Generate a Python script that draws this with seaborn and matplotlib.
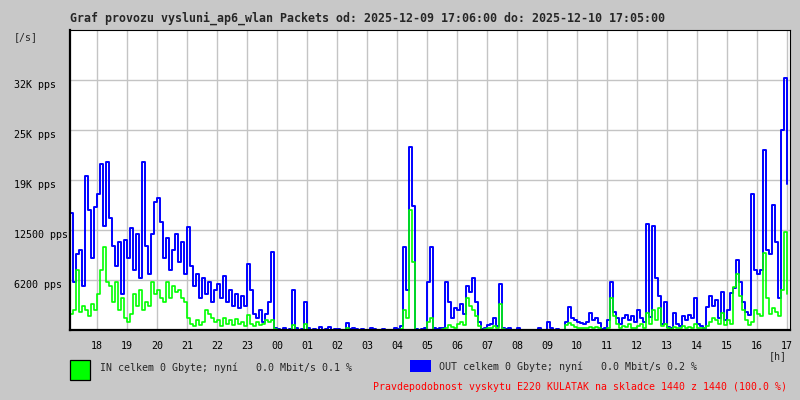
import numpy as np
import pandas as pd
import matplotlib
matplotlib.use("Agg")
import matplotlib.pyplot as plt
import matplotlib.dates as mdates
from matplotlib.patches import Rectangle
import seaborn as sns

# ── data (K pps, one sample per 6 min, from 17:06) ────────────────────────
START = "2025-12-09 17:06"
END = "2025-12-10 17:06"

out_k = [
    14.6, 6.0, 9.5, 10.0, 5.5, 19.2, 15.0, 9.0, 15.4,             # 17
    17.0, 20.8, 13.0, 21.0, 14.0, 10.5, 8.0, 11.0, 4.5, 11.2,     # 18
    9.0, 12.8, 7.5, 12.0, 6.5, 21.0, 10.5, 7.0, 12.0, 16.0,       # 19
    16.5, 13.5, 9.0, 11.5, 7.5, 10.0, 12.0, 8.5, 11.0, 7.0,       # 20
    12.9, 8.0, 5.5, 7.0, 4.0, 6.5, 4.5, 6.0, 3.5, 5.0,            # 21
    5.8, 4.0, 6.7, 3.5, 5.0, 3.0, 4.5, 2.8, 4.2, 3.0,             # 22
    8.3, 5.0, 2.0, 1.5, 2.5, 1.0, 2.0, 3.5, 9.8, 0.2,             # 23
    0.1, 0.0, 0.2, 0.0, 0.1, 5.0, 0.2, 0.0, 0.1, 3.5,             # 00
    0.3, 0.0, 0.1, 0.0, 0.4, 0.0, 0.1, 0.4, 0.0, 0.1,             # 01
    0.1, 0.0, 0.0, 0.9, 0.1, 0.2, 0.1, 0.0, 0.1, 0.0,             # 02
    0.0, 0.2, 0.1, 0.0, 0.0, 0.1, 0.0, 0.0, 0.0, 0.2,             # 03
    0.1, 0.5, 10.4, 5.0, 22.9, 15.5, 0.1, 0.0, 0.1, 0.2,          # 04
    6.0, 10.4, 0.2, 0.1, 0.2, 0.3, 6.0, 3.5, 1.5, 2.8,            # 05
    2.5, 3.3, 2.0, 5.5, 4.8, 6.5, 3.5, 1.0, 0.1, 0.3,             # 06
    0.6, 0.8, 1.5, 0.5, 5.8, 0.3, 0.1, 0.2, 0.0, 0.0,             # 07
    0.2, 0.0, 0.0, 0.0, 0.0, 0.0, 0.0, 0.3, 0.0, 0.0,             # 08
    1.0, 0.2, 0.0, 0.1, 0.0, 0.0, 1.0, 2.9, 1.5, 1.2,             # 09
    1.0, 0.9, 0.8, 1.0, 2.1, 1.2, 1.5, 0.9, 0.1, 0.3,             # 10
    1.2, 6.0, 2.3, 1.5, 0.8, 1.5, 1.9, 1.2, 1.8, 1.0,             # 11
    2.5, 1.5, 1.0, 13.2, 1.6, 13.0, 6.5, 4.2, 0.8, 3.5,           # 12
    0.4, 0.3, 2.1, 0.8, 0.5, 1.7, 1.2, 1.9, 1.5, 4.0,             # 13
    0.8, 0.5, 0.3, 2.9, 4.2, 3.0, 3.8, 1.5, 4.8, 1.2,             # 14
    2.5, 4.6, 5.2, 8.7, 6.0, 3.5, 2.2, 1.9, 17.0, 7.5,            # 15
    7.0, 7.5, 22.5, 10.0, 9.5, 15.6, 11.0, 4.0, 25.0, 31.5, 18.3, # 16-17
]

in_k = [
    2.0, 2.5, 7.5, 2.2, 3.0, 2.5, 1.8, 3.2, 2.5,
    4.5, 7.5, 10.4, 6.0, 5.5, 3.5, 6.0, 2.5, 4.0, 1.5,
    1.0, 2.0, 4.5, 3.0, 5.0, 2.5, 3.5, 3.0, 6.0, 4.5,
    5.0, 4.0, 3.5, 6.0, 4.0, 5.5, 4.8, 5.0, 4.0, 3.5,
    1.5, 0.8, 0.5, 1.2, 0.6, 1.0, 2.5, 2.0, 1.5, 1.0,
    1.2, 0.5, 1.5, 0.8, 1.3, 0.6, 1.4, 0.7, 1.0, 0.5,
    1.9, 0.8, 0.5, 1.0, 0.6, 0.8, 1.3, 1.0, 1.2, 0.1,
    0.0, 0.0, 0.0, 0.0, 0.0, 0.6, 0.0, 0.0, 0.0, 0.8,
    0.0, 0.0, 0.0, 0.0, 0.0, 0.0, 0.0, 0.0, 0.0, 0.0,
    0.0, 0.0, 0.0, 0.2, 0.0, 0.0, 0.0, 0.0, 0.0, 0.0,
    0.0, 0.0, 0.0, 0.0, 0.0, 0.0, 0.0, 0.0, 0.0, 0.0,
    0.0, 0.1, 2.5, 1.5, 15.0, 8.5, 0.0, 0.0, 0.0, 0.0,
    1.0, 1.5, 0.0, 0.0, 0.0, 0.1, 0.3, 0.6, 0.4, 0.2,
    0.8, 1.0, 0.6, 4.0, 3.0, 2.5, 1.7, 0.5, 0.0, 0.1,
    0.2, 0.3, 0.5, 0.2, 3.3, 0.1, 0.0, 0.0, 0.0, 0.0,
    0.0, 0.0, 0.0, 0.0, 0.0, 0.0, 0.0, 0.0, 0.0, 0.0,
    0.0, 0.0, 0.0, 0.0, 0.0, 0.0, 0.6, 0.9, 0.6, 0.4,
    0.3, 0.2, 0.3, 0.2, 0.4, 0.3, 0.4, 0.2, 0.0, 0.0,
    0.3, 4.0, 1.7, 0.8, 0.3, 0.5, 0.4, 0.7, 0.3, 0.2,
    0.5, 0.8, 0.3, 2.1, 0.8, 2.5, 1.3, 2.7, 0.5, 0.8,
    0.2, 0.1, 0.4, 0.3, 0.2, 0.5, 0.3, 0.4, 0.3, 0.8,
    0.2, 0.3, 0.2, 0.5, 1.0, 1.5, 1.2, 0.8, 2.1, 0.6,
    1.2, 0.8, 5.4, 7.0, 4.2, 2.5, 1.2, 0.6, 1.0, 2.5,
    2.0, 1.7, 9.6, 4.0, 2.0, 2.8, 2.2, 1.8, 5.0, 12.3, 4.5,
]

y_ticks = [6250, 12500, 18750, 25000, 31250]
y_labels = ["6200 pps", "12500 pps", "19K pps", "25K pps", "32K pps"]
Y_MAX = 37500

TITLE = "Graf provozu vysluni_ap6_wlan Packets od: 2025-12-09 17:06:00 do: 2025-12-10 17:05:00"
IN_TXT = "IN celkem 0 Gbyte; nyní   0.0 Mbit/s 0.1 %"
OUT_TXT = "OUT celkem 0 Gbyte; nyní   0.0 Mbit/s 0.2 %"
FOOT = "Pravdepodobnost vyskytu E220 KULATAK na skladce 1440 z 1440 (100.0 %)"

# ── style ──────────────────────────────────────────────────────────────────
BG = "#c8c8c8"
GRID = "#c4c4c4"
sns.set_style("white")
plt.rcParams["font.family"] = ["DejaVu Sans Mono", "DejaVu Sans"]
plt.rcParams["font.size"] = 7.2

times = pd.date_range(START, periods=len(out_k), freq="6min")
df = pd.DataFrame({
    "time": times,
    "out": np.array(out_k) * 1000,
    "in": np.array(in_k) * 1000,
})

fig = plt.figure(figsize=(8, 4), dpi=100, facecolor=BG)
W, H = 800, 400


def px(x, y):
    return x / W, 1 - y / H


ax = fig.add_axes([70 / W, 70 / H, 720 / W, 300 / H])
ax.set_facecolor("white")

sns.lineplot(data=df, x="time", y="out", color="#0000ff", lw=1.4,
             drawstyle="steps-post", ax=ax, zorder=3)
sns.lineplot(data=df, x="time", y="in", color="#00ff00", lw=1.2,
             drawstyle="steps-post", ax=ax, zorder=4)

ax.set_xlim(pd.Timestamp(START), pd.Timestamp(END))
ax.set_ylim(0, Y_MAX)
ax.set_xlabel("")
ax.set_ylabel("")

ax.xaxis.set_major_locator(mdates.HourLocator())
ax.xaxis.set_major_formatter(mdates.DateFormatter("%H"))
ax.set_yticks(y_ticks)
ax.set_yticklabels(y_labels)
for lab in ax.get_yticklabels():
    lab.set_horizontalalignment("left")
    lab.set_verticalalignment("top")

ax.grid(True, color=GRID, lw=1.0)
ax.set_axisbelow(True)
ax.tick_params(axis="both", length=0, labelsize=7.2, colors="black")
ax.tick_params(axis="y", pad=40.5)
ax.tick_params(axis="x", pad=8)

for side in ["top", "right"]:
    ax.spines[side].set_color("black")
    ax.spines[side].set_linewidth(0.8)
for side in ["left", "bottom"]:
    ax.spines[side].set_color("black")
    ax.spines[side].set_linewidth(1.6)
    ax.spines[side].set_zorder(5)

# texts
fig.text(*px(70, 18), TITLE, fontsize=8.35, fontweight="bold", va="center", ha="left")
fig.text(*px(14, 37), "[/s]", fontsize=7.2, va="center", ha="left")
fig.text(*px(787, 356), "[h]", fontsize=7.2, va="center", ha="right")

# legend boxes
fig.patches.append(Rectangle(px(70, 380), 20 / W, 20 / H, transform=fig.transFigure,
                             facecolor="#00ff00", edgecolor="black", lw=0.9))
fig.patches.append(Rectangle(px(410, 372), 21 / W, 12 / H, transform=fig.transFigure,
                             facecolor="#0000ff", edgecolor="none"))
fig.text(*px(100, 368), IN_TXT, fontsize=7.2, va="center", ha="left")
fig.text(*px(439, 367), OUT_TXT, fontsize=7.2, va="center", ha="left")
fig.text(*px(787, 387), FOOT, fontsize=7.1, color="#ff0000", va="center", ha="right")

fig.savefig("out.png", dpi=100, facecolor=BG)
